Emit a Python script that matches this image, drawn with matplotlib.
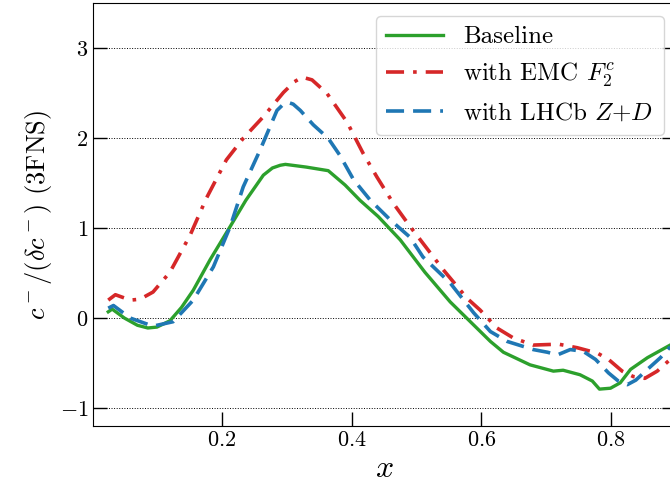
import numpy as np
import matplotlib
matplotlib.use("Agg")
import matplotlib.pyplot as plt

plt.rcParams['font.family'] = 'serif'
plt.rcParams['font.serif'] = ['cmr10', 'DejaVu Serif']
plt.rcParams['mathtext.fontset'] = 'cm'
plt.rcParams['axes.formatter.use_mathtext'] = True
plt.rcParams['axes.unicode_minus'] = True

# values
x_base = [0.025, 0.031, 0.05, 0.07, 0.086, 0.10, 0.12, 0.138, 0.156, 0.182, 0.213, 0.237,
          0.264, 0.278, 0.29, 0.298, 0.33, 0.364, 0.39, 0.413, 0.441, 0.475, 0.513,
          0.552, 0.583, 0.614, 0.634, 0.675, 0.711, 0.726, 0.752, 0.771, 0.782, 0.799,
          0.814, 0.83, 0.856, 0.891]
y_base = [0.07, 0.10, 0.0, -0.08, -0.11, -0.10, -0.03, 0.12, 0.31, 0.65, 1.02, 1.31,
          1.59, 1.67, 1.70, 1.71, 1.68, 1.64, 1.48, 1.31, 1.13, 0.87, 0.51,
          0.18, -0.04, -0.26, -0.38, -0.52, -0.59, -0.58, -0.63, -0.70, -0.79, -0.78,
          -0.72, -0.57, -0.44, -0.30]

x_emc = [0.025, 0.036, 0.059, 0.074, 0.094, 0.12, 0.151, 0.176, 0.207, 0.233, 0.264,
         0.295, 0.312, 0.324, 0.339, 0.362, 0.393, 0.418, 0.439, 0.464, 0.49, 0.506,
         0.541, 0.578, 0.598, 0.624, 0.649, 0.68, 0.719, 0.748, 0.779, 0.796, 0.817,
         0.834, 0.852, 0.871, 0.891]
y_emc = [0.20, 0.26, 0.20, 0.21, 0.29, 0.51, 0.92, 1.33, 1.76, 2.0, 2.24,
         2.51, 2.63, 2.68, 2.65, 2.50, 2.18, 1.83, 1.57, 1.28, 1.02, 0.87,
         0.54, 0.22, 0.09, -0.11, -0.22, -0.30, -0.29, -0.33, -0.39, -0.46, -0.59,
         -0.65, -0.67, -0.59, -0.46]

x_lhcb = [0.025, 0.033, 0.059, 0.094, 0.125, 0.156, 0.187, 0.213, 0.233, 0.259, 0.285,
          0.295, 0.302, 0.31, 0.321, 0.341, 0.364, 0.382, 0.403, 0.429, 0.46, 0.49,
          0.51, 0.552, 0.588, 0.614, 0.64, 0.68, 0.702, 0.717, 0.737, 0.757, 0.776,
          0.796, 0.811, 0.825, 0.838, 0.856, 0.876, 0.891]
y_lhcb = [0.11, 0.14, 0.0, -0.09, -0.04, 0.20, 0.57, 1.02, 1.46, 1.87, 2.31,
          2.38, 2.40, 2.38, 2.31, 2.15, 2.0, 1.81, 1.54, 1.31, 1.09, 0.90,
          0.68, 0.39, 0.06, -0.15, -0.26, -0.35, -0.38, -0.41, -0.35, -0.37, -0.46,
          -0.61, -0.70, -0.74, -0.69, -0.57, -0.44, -0.32]

labels = ['Baseline', r'with EMC $F_2^c$', r'with LHCb $Z{+}D$']

fig = plt.figure(figsize=(6.70, 4.94), dpi=100)
ax = fig.add_axes([0.1393, 0.1377, 0.8697, 0.8553])

ax.plot(x_base, y_base, color='#2ca02c', lw=2.4, ls='-', label=labels[0])
ax.plot(x_emc, y_emc, color='#d62728', lw=2.6, ls=(0, (5, 2.5, 1, 2.5)), label=labels[1])
ax.plot(x_lhcb, y_lhcb, color='#1f77b4', lw=2.6, ls=(0, (5, 2.5)), label=labels[2])

ax.set_xlim(0.002, 0.9)
ax.set_ylim(-1.2, 3.5)
ax.set_xticks([0.2, 0.4, 0.6, 0.8])
ax.set_yticks([-1, 0, 1, 2, 3])
ax.tick_params(direction='in', length=10, width=1.0, labelsize=16,
               right=True, top=False)
ax.yaxis.grid(True, ls=':', color='k', lw=0.7)

ax.set_xlabel(r'$x$', fontsize=23)
ax.set_ylabel(r'$c^-/(\delta c^-)$ (3FNS)', fontsize=19)

ax.legend(loc='upper right', fontsize=18, handlelength=2.3, fancybox=True)

fig.savefig('out.png', dpi=100)
